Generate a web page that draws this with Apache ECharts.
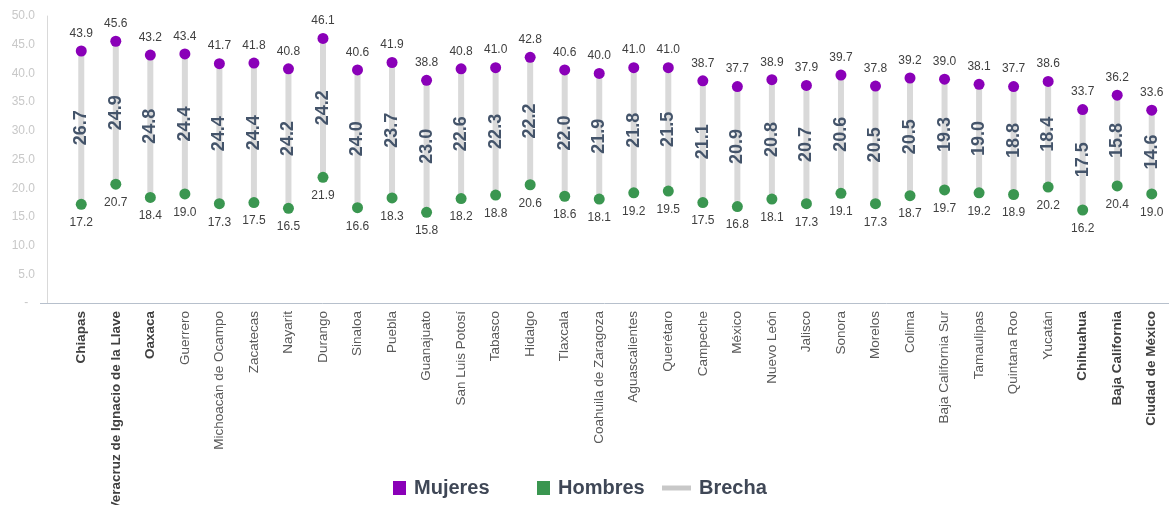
<!DOCTYPE html>
<html><head><meta charset="utf-8">
<script src="https://cdn.jsdelivr.net/npm/echarts@6/dist/echarts.min.js"></script>
<style>html,body{margin:0;padding:0;background:#fff}#c{width:1169px;height:505px}</style>
</head><body><div id="c"></div>
<script>
const categories = ['Chiapas','Veracruz de Ignacio de la Llave','Oaxaca','Guerrero','Michoacán de Ocampo','Zacatecas','Nayarit','Durango','Sinaloa','Puebla','Guanajuato','San Luis Potosí','Tabasco','Hidalgo','Tlaxcala','Coahuila de Zaragoza','Aguascalientes','Querétaro','Campeche','México','Nuevo León','Jalisco','Sonora','Morelos','Colima','Baja California Sur','Tamaulipas','Quintana Roo','Yucatán','Chihuahua','Baja California','Ciudad de México'];
const boldCategories = ['Chiapas','Veracruz de Ignacio de la Llave','Oaxaca','Chihuahua','Baja California','Ciudad de México'];
const mujeres = [43.9,45.6,43.2,43.4,41.7,41.8,40.8,46.1,40.6,41.9,38.8,40.8,41.0,42.8,40.6,40.0,41.0,41.0,38.7,37.7,38.9,37.9,39.7,37.8,39.2,39.0,38.1,37.7,38.6,33.7,36.2,33.6];
const hombres = [17.2,20.7,18.4,19.0,17.3,17.5,16.5,21.9,16.6,18.3,15.8,18.2,18.8,20.6,18.6,18.1,19.2,19.5,17.5,16.8,18.1,17.3,19.1,17.3,18.7,19.7,19.2,18.9,20.2,16.2,20.4,19.0];
const brecha = [26.7,24.9,24.8,24.4,24.4,24.4,24.2,24.2,24.0,23.7,23.0,22.6,22.3,22.2,22.0,21.9,21.8,21.5,21.1,20.9,20.8,20.7,20.6,20.5,20.5,19.3,19.0,18.8,18.4,17.5,15.8,14.6];
const yTicks = [0,5,10,15,20,25,30,35,40,45,50];

const FONT = 'Liberation Sans';
const chart = echarts.init(document.getElementById('c'));
const gridTop = 16, gridBottom = 202;

const brechaData = categories.map((c,i)=>[i, hombres[i], mujeres[i], brecha[i]]);

const legendText = {fontFamily: FONT, fontSize: 20, fontWeight: 'bold', color: '#3f4756', padding: [0,0,0,3]};

chart.setOption({
  animation: false,
  textStyle: {fontFamily: FONT},
  grid: {left: 64, right: 0, top: gridTop, bottom: gridBottom, containLabel: false, outerBoundsMode: 'none'},
  legend: [
    {data: ['Mujeres'], left: 393, top: 478, padding: 0, icon: 'rect', itemWidth: 13, itemHeight: 14, itemGap: 0, textStyle: legendText},
    {data: ['Hombres'], left: 537, top: 478, padding: 0, icon: 'rect', itemWidth: 13, itemHeight: 14, itemGap: 0, textStyle: legendText},
    {data: ['Brecha'], left: 662, top: 478, padding: 0, icon: 'rect', itemWidth: 29, itemHeight: 5, itemGap: 0, textStyle: legendText}
  ],
  xAxis: {
    type: 'category', data: categories, boundaryGap: true,
    axisLine: {show: false}, axisTick: {show: false},
    axisLabel: {
      interval: 0, rotate: 90, margin: 8, fontSize: 13.5, color: '#595959', fontFamily: FONT,
      hideOverlap: false,
      formatter: v => boldCategories.includes(v) ? '{b|' + v + '}' : v,
      rich: {b: {fontWeight: 'bold', fontSize: 13.5, color: '#404040', fontFamily: FONT}}
    }
  },
  yAxis: {
    type: 'value', min: 0, max: 50, interval: 5, offset: 17,
    axisLine: {show: true, lineStyle: {color: '#d9d9d9', width: 1}},
    axisTick: {show: false}, splitLine: {show: false},
    axisLabel: {margin: 12, fontSize: 12, color: '#c8c8c8', fontFamily: FONT,
      formatter: v => v === 0 ? '-  ' : v.toFixed(1)}
  },
  graphic: [{
    type: 'line', shape: {x1: 40, y1: 505 - gridBottom + 0.5, x2: 1169, y2: 505 - gridBottom + 0.5},
    style: {stroke: '#b7c0cc', lineWidth: 1}, z: 1
  }],
  series: [
    {
      name: 'Brecha', type: 'custom', z: 1,
      itemStyle: {color: '#c8c8c8'},
      data: brechaData,
      encode: {x: 0, y: [1, 2]},
      renderItem: function(params, api) {
        const x = api.value(0);
        const p1 = api.coord([x, api.value(1)]);
        const p2 = api.coord([x, api.value(2)]);
        const mid = (p1[1] + p2[1]) / 2;
        return {
          type: 'group',
          children: [
            {type: 'line', shape: {x1: p1[0], y1: p1[1], x2: p2[0], y2: p2[1]},
             style: {stroke: '#d9d9d9', lineWidth: 6}},
            {type: 'text', x: p1[0], y: mid, rotation: Math.PI / 2,
             style: {text: api.value(3).toFixed(1), fill: '#44546a', font: 'bold 18px "Liberation Sans"',
                     align: 'center', verticalAlign: 'middle'}}
          ]
        };
      }
    },
    {
      name: 'Mujeres', type: 'scatter', z: 3, symbol: 'circle', symbolSize: 11,
      itemStyle: {color: '#8a00b8', opacity: 1},
      data: mujeres,
      label: {show: true, position: 'top', distance: 6, fontSize: 12, color: '#404040', fontFamily: FONT,
              formatter: p => p.value.toFixed(1)}
    },
    {
      name: 'Hombres', type: 'scatter', z: 3, symbol: 'circle', symbolSize: 11,
      itemStyle: {color: '#3a9650', opacity: 1},
      data: hombres,
      label: {show: true, position: 'bottom', distance: 7, fontSize: 12, color: '#404040', fontFamily: FONT,
              formatter: p => p.value.toFixed(1)}
    }
  ]
});
</script>
</body></html>
